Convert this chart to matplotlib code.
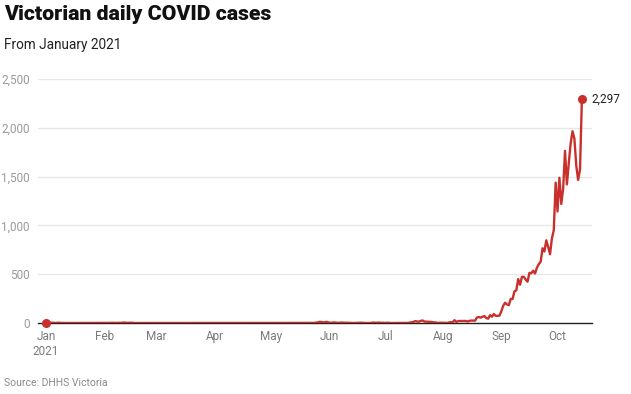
import matplotlib
matplotlib.use("Agg")
import matplotlib.pyplot as plt
import numpy as np
import datetime as dt

plt.rcParams['font.family'] = ['Roboto', 'DejaVu Sans']

# daily cases, 1 Jan 2021 .. 14 Oct 2021
jan = [3, 3, 3, 3, 1, 0, 1, 3, 0, 1, 0, 0, 0, 0, 0, 0, 0, 0, 0, 0, 0, 0, 0, 0, 0, 0, 0, 1, 1, 1, 0]
feb = [0, 0, 1, 1, 2, 1, 1, 1, 1, 2, 3, 5, 2, 2, 1, 3, 0, 0, 0, 0, 0, 0, 0, 0, 0, 0, 0, 0]
mar = [0] * 31
apr = [0] * 30
may = [0, 0, 0, 0, 0, 0, 0, 0, 0, 0, 1, 0, 0, 0, 0, 0, 0, 0, 0, 0, 0, 0, 0, 1, 4, 6, 12, 11, 5, 10, 11]
jun = [4, 3, 5, 6, 3, 2, 3, 5, 2, 3, 2, 1, 0, 0, 0, 1, 2, 3, 1, 0, 0, 0, 0, 2, 5, 1, 4, 4, 1, 3]
jul = [0, 3, 1, 0, 0, 0, 0, 0, 0, 0, 0, 0, 1, 4, 7, 10, 19, 16, 13, 22, 26, 14, 14, 12, 11, 10, 6, 6, 0, 3, 2]
aug = [2, 2, 0, 6, 8, 6, 29, 11, 20, 20, 21, 21, 21, 15, 22, 25, 24, 24, 57, 61, 55, 65, 71, 50, 45,
       80, 64, 92, 73, 73, 76]
sep = [120, 176, 208, 190, 183, 246, 246, 324, 334, 450, 392, 473, 473, 445, 423, 514, 510, 535, 507,
       567, 603, 628, 766, 733, 847, 779, 705, 867, 950, 1438]
octo = [1143, 1488, 1220, 1377, 1763, 1420, 1638, 1838, 1965, 1890, 1612, 1466, 1571, 2297]

cases = jan + feb + mar + apr + may + jun + jul + aug + sep + octo
start = dt.date(2021, 1, 1)
days = np.arange(len(cases))

month_labels = ['Jan\n2021', 'Feb', 'Mar', 'Apr', 'May', 'Jun', 'Jul', 'Aug', 'Sep', 'Oct']
month_ticks = [(dt.date(2021, m, 1) - start).days for m in range(1, 11)]
y_ticks = [0, 500, 1000, 1500, 2000, 2500]

red = '#c9302c'

fig = plt.figure(figsize=(6.31, 3.94), dpi=100)
ax = fig.add_axes([38 / 631, 1 - 323 / 394, 554 / 631, 244 / 394])

ax.plot(days, cases, color=red, lw=1.7, solid_joinstyle='round', zorder=3)
ax.plot([days[0], days[-1]], [cases[0], cases[-1]], 'o', color=red, ms=5.5, zorder=4, clip_on=False)
ax.annotate(f"{cases[-1]:,}", (days[-1], cases[-1]), xytext=(7, 0), textcoords='offset points',
            ha='left', va='center', fontsize=8.5, color='#222222')

ax.set_xlim(-4.3, 291.4)
ax.set_ylim(0, 2500)
ax.set_yticks(y_ticks)
ax.set_yticklabels([f"{v:,}" for v in y_ticks])
ax.set_xticks(month_ticks)
ax.set_xticklabels(month_labels, multialignment='center')
ax.tick_params(axis='both', length=0, labelsize=8.5, labelcolor='#9a9a9a')
ax.tick_params(axis='y', pad=6)
ax.tick_params(axis='x', pad=5)
for lbl in ax.get_xticklabels():
    lbl.set_color('#7a7a7a')
ax.grid(axis='y', color='#e6e6e6', lw=0.9)
ax.set_axisbelow(True)
for s in ['top', 'right', 'left']:
    ax.spines[s].set_visible(False)
ax.spines['bottom'].set_color('#222222')
ax.spines['bottom'].set_linewidth(1.0)

fig.text(4 / 631, 1 - 5 / 394, "Victorian daily COVID cases", ha='left', va='top',
         fontsize=15.3, fontweight='heavy', color='#111111')
fig.text(4 / 631, 1 - 38 / 394, "From January 2021", ha='left', va='top',
         fontsize=9.8, color='#222222')
fig.text(4 / 631, 1 - 383 / 394, "Source: DHHS Victoria", ha='left', va='center',
         fontsize=7.5, color='#8a8a8a')

fig.savefig('out.png', dpi=100)
